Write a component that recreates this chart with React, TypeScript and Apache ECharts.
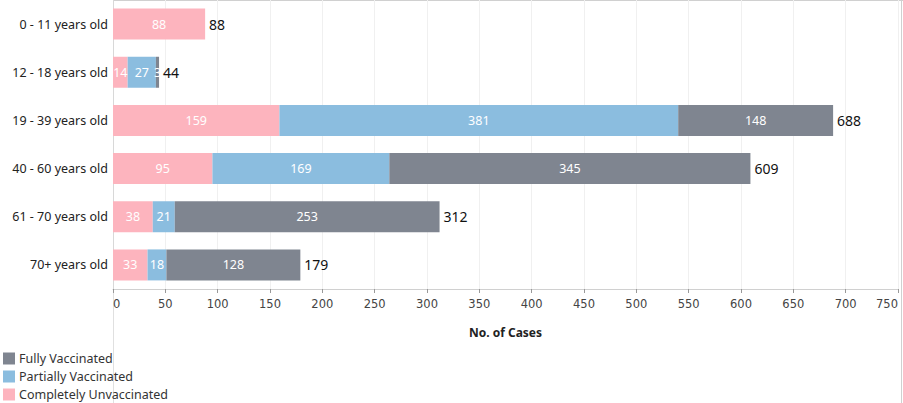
import React, { useEffect, useRef } from "react";
import * as echarts from "echarts";

const categories = ["0 - 11 years old", "12 - 18 years old", "19 - 39 years old", "40 - 60 years old", "61 - 70 years old", "70+ years old"];
const unvaccinated = [88, 14, 159, 95, 38, 33];
const partially = [0, 27, 381, 169, 21, 18];
const fully = [0, 3, 148, 345, 253, 128];
const totals = [88, 44, 688, 609, 312, 179];
const seriesNames = ["Completely Unvaccinated", "Partially Vaccinated", "Fully Vaccinated"];
const xTicks = [0, 750, 50];

export default function App() {
  const ref = useRef<HTMLDivElement>(null);
  useEffect(() => {
    if (!ref.current) return;
    document.body.style.margin = "0";
    const chart = echarts.init(ref.current, undefined, { renderer: "svg" });
    const font = "'Noto Sans', sans-serif";
    const inside = (v: any) => (v.value ? String(v.value) : "");
    const insideLabel = { show: true, position: "inside", color: "#fff", fontSize: 12.5, fontFamily: font, formatter: inside };
    chart.setOption({
      animation: false,
      grid: { left: 113, right: 5, top: 0, bottom: 114, outerBoundsMode: "none", containLabel: false },
      legend: {
        data: [seriesNames[2], seriesNames[1], seriesNames[0]],
        orient: "vertical",
        left: 3,
        top: 352,
        padding: 0,
        itemWidth: 12,
        itemHeight: 12,
        itemGap: 5,
        icon: "rect",
        textStyle: { color: "#333", fontSize: 12.5, fontFamily: font, padding: [0, 0, 0, -1] },
      },
      xAxis: {
        type: "value",
        min: xTicks[0],
        max: xTicks[1],
        interval: xTicks[2],
        name: "No. of Cases",
        nameLocation: "middle",
        nameGap: 37,
        nameTextStyle: { fontWeight: "bold", fontSize: 12, color: "#222", fontFamily: font },
        axisLine: { show: true, lineStyle: { color: "#d0d0d0" } },
        axisTick: { show: true, length: 4, lineStyle: { color: "#999" } },
        axisLabel: {
          color: "#444",
          fontSize: 11.5,
          fontFamily: "'DejaVu Sans', sans-serif",
          margin: 9,
          alignMinLabel: "left",
          alignMaxLabel: "right",
        },
        splitLine: { show: true, lineStyle: { color: "#f0f0f0" } },
      },
      yAxis: {
        type: "category",
        data: categories,
        inverse: true,
        axisLine: { show: true, lineStyle: { color: "#d8d8d8" } },
        axisTick: { show: false },
        axisLabel: { color: "#222", fontSize: 12.5, fontFamily: font, margin: 5 },
      },
      series: [
        { name: seriesNames[0], type: "bar", stack: "s", data: unvaccinated, barWidth: 31, itemStyle: { color: "#FDB4BE" }, label: insideLabel },
        { name: seriesNames[1], type: "bar", stack: "s", data: partially, itemStyle: { color: "#8BBDDF" }, label: insideLabel },
        { name: seriesNames[2], type: "bar", stack: "s", data: fully, itemStyle: { color: "#7F8590" }, label: insideLabel },
        {
          name: "Total",
          type: "bar",
          stack: "s",
          data: totals.map(() => 0),
          itemStyle: { color: "transparent" },
          label: {
            show: true,
            position: "right",
            distance: 4,
            color: "#111",
            fontSize: 14,
            fontFamily: font,
            formatter: (p: any) => String(totals[p.dataIndex]),
          },
        },
      ],
      graphic: [
        { type: "line", shape: { x1: 113.5, y1: 289, x2: 113.5, y2: 403 }, style: { stroke: "#e0e0e0", lineWidth: 1 } },
        { type: "line", shape: { x1: 113, y1: 0.5, x2: 903, y2: 0.5 }, style: { stroke: "#d0d0d0", lineWidth: 1 } },
        { type: "line", shape: { x1: 901.5, y1: 0, x2: 901.5, y2: 403 }, style: { stroke: "#d0d0d0", lineWidth: 1 } },
      ],
    });
    return () => chart.dispose();
  }, []);
  return <div ref={ref} style={{ width: 903, height: 403, position: "absolute", left: 0, top: 0 }} />;
}
